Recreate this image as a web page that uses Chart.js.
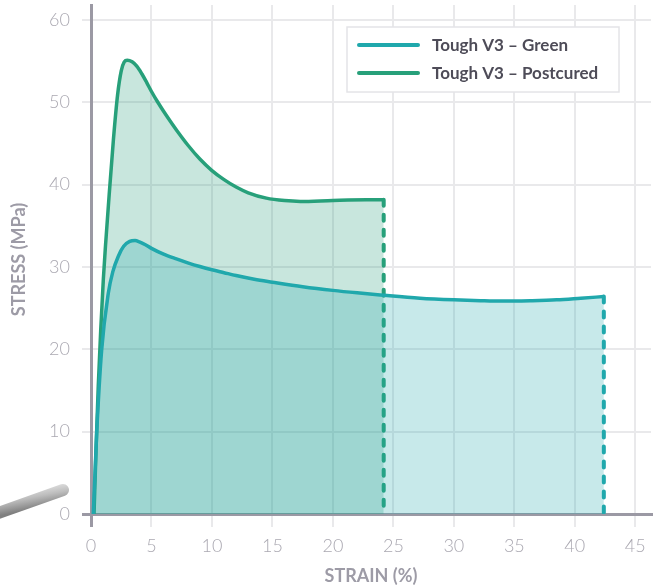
<!DOCTYPE html>
<html>
<head>
<meta charset="utf-8">
<script src="https://cdn.jsdelivr.net/npm/chart.js@4"></script>
<style>
  html, body { margin: 0; padding: 0; background: #fff; }
  #wrap { width: 656px; height: 588px; }
</style>
</head>
<body>
<div id="wrap"><canvas id="myChart" width="656" height="588"></canvas></div>
<script>
const seriesNames = ['Tough V3 – Green', 'Tough V3 – Postcured'];

const greenStrain = [0.19, 0.47, 0.88, 1.43, 1.8, 2.26, 2.7, 3.2, 3.64, 4.0, 4.5, 5.0, 6.0, 7.0, 8.0, 9.0, 10.0, 11.0, 12.0, 13.5, 15, 17.5, 20, 22, 23.9, 27.2, 30, 32.2, 34, 36.3, 38.5, 40.5, 42.4];
const greenStress = [0, 9.8, 19.9, 26.8, 29.4, 31.3, 32.5, 33.1, 33.2, 33.05, 32.7, 32.25, 31.55, 31.0, 30.5, 30.05, 29.65, 29.3, 28.95, 28.5, 28.15, 27.6, 27.15, 26.85, 26.6, 26.2, 26.0, 25.9, 25.85, 25.9, 26.0, 26.2, 26.4];

const postStrain = [0.25, 0.42, 0.6, 0.8, 1.02, 1.2, 1.43, 1.85, 2.2, 2.5, 2.75, 3.0, 3.4, 3.8, 4.2, 4.6, 5.0, 5.5, 6.0, 6.6, 7.2, 8.0, 9.0, 10.0, 11.0, 12.0, 13.0, 14.5, 16.0, 17.3, 20.0, 22.8, 24.2];
const postStress = [0, 8, 15.5, 22.2, 28.5, 32.6, 37.3, 45.4, 50.9, 53.8, 54.9, 55.1, 54.9, 54.35, 53.45, 52.4, 51.3, 50.05, 48.9, 47.6, 46.35, 44.8, 43.1, 41.7, 40.6, 39.7, 39.0, 38.35, 38.05, 37.95, 38.07, 38.15, 38.15];

const xTicks = [0, 5, 10, 15, 20, 25, 30, 35, 40, 45];
const yTicks = [0, 10, 20, 30, 40, 50, 60];

const tealColor = '#20a8ac';
const greenColor = '#27a07a';
const axisColor = '#9b99a4';
const gridColor = '#e9e9eb';
const tickColor = '#aaa8b1';

const toPoints = (xs, ys) => xs.map((x, i) => ({x: x, y: ys[i]}));
const greenPts = toPoints(greenStrain, greenStress);
const postPts = toPoints(postStrain, postStress);
const lastOf = (a) => a[a.length - 1];
const greenDrop = [{x: lastOf(greenStrain), y: lastOf(greenStress)}, {x: lastOf(greenStrain), y: 0}];
const postDrop = [{x: lastOf(postStrain), y: lastOf(postStress)}, {x: lastOf(postStrain), y: 0}];

const rodPlugin = {
    id: 'rod',
    afterDraw(chart) {
        const c = chart.ctx;
        c.save();
        const g = c.createLinearGradient(30, 488, 34, 509);
        g.addColorStop(0, '#e2e2e2');
        g.addColorStop(0.45, '#bdbdbd');
        g.addColorStop(1, '#808080');
        c.strokeStyle = g;
        c.lineWidth = 12;
        c.lineCap = 'round';
        c.beginPath();
        c.moveTo(-10, 516);
        c.lineTo(63, 490);
        c.stroke();
        c.restore();
    }
};

const legendPlugin = {
    id: 'boxLegend',
    afterDraw(chart) {
        const c = chart.ctx;
        c.save();
        c.fillStyle = '#ffffff';
        c.strokeStyle = '#e4e4e7';
        c.lineWidth = 1.5;
        c.fillRect(347, 27, 272, 65);
        c.strokeRect(347, 27, 272, 65);
        const items = [chart.data.datasets[1], chart.data.datasets[3]];
        items.forEach((ds, i) => {
            const y = 45 + i * 28;
            c.strokeStyle = ds.borderColor;
            c.lineWidth = 4;
            c.lineCap = 'round';
            c.beginPath();
            c.moveTo(359, y);
            c.lineTo(418, y);
            c.stroke();
            c.fillStyle = '#4e4c58';
            c.font = 'bold 17px Lato';
            c.textBaseline = 'middle';
            c.fillText(ds.label, 432, y + 1);
        });
        c.restore();
    }
};

const gridFor = (ctx) => ctx.tick && ctx.tick.value === 0 ? axisColor : gridColor;
const gridWidth = (ctx) => ctx.tick && ctx.tick.value === 0 ? 3 : 2;

new Chart(document.getElementById('myChart'), {
    type: 'line',
    data: {
        datasets: [
            {
                label: 'green drop',
                data: greenDrop,
                borderColor: tealColor,
                borderWidth: 4,
                borderDash: [6, 9],
                borderCapStyle: 'round',
                tension: 0,
                pointRadius: 0,
                fill: false
            }, {
                label: seriesNames[0],
                data: greenPts,
                borderColor: tealColor,
                backgroundColor: 'rgba(32,168,172,0.25)',
                borderWidth: 3.5,
                cubicInterpolationMode: 'monotone',
                pointRadius: 0,
                fill: 'origin'
            }, {
                label: 'postcured drop',
                data: postDrop,
                borderColor: greenColor,
                borderWidth: 4,
                borderDash: [6, 9],
                borderCapStyle: 'round',
                tension: 0,
                pointRadius: 0,
                fill: false
            }, {
                label: seriesNames[1],
                data: postPts,
                borderColor: greenColor,
                backgroundColor: 'rgba(42,160,122,0.26)',
                borderWidth: 3.5,
                cubicInterpolationMode: 'monotone',
                pointRadius: 0,
                fill: 'origin'
            }
        ]
    },
    options: {
        responsive: false,
        animation: false,
        layout: { padding: { top: 5, right: 5, left: 0, bottom: 0 } },
        plugins: {
            legend: { display: false },
            tooltip: { enabled: false }
        },
        scales: {
            x: {
                type: 'linear',
                min: 0,
                max: 46.3,
                afterFit: (scale) => {
                    scale.height = 74;
                    scale.paddingLeft = 0;
                    scale.paddingRight = 0;
                },
                afterBuildTicks: (scale) => { scale.ticks = xTicks.map(v => ({value: v})); },
                ticks: {
                    color: tickColor,
                    padding: 8,
                    font: { family: 'Lato', size: 18, weight: 300 }
                },
                grid: { color: gridFor, lineWidth: gridWidth, tickLength: 13 },
                border: { color: axisColor, width: 3 },
                title: {
                    display: true,
                    text: 'STRAIN (%)',
                    color: '#9d9ba6',
                    padding: { top: 0, bottom: 1 },
                    font: { family: 'Lato', size: 18, weight: 'bold' }
                }
            },
            y: {
                min: 0,
                max: 61.8,
                afterFit: (scale) => {
                    scale.width = 91;
                    scale.paddingTop = 0;
                    scale.paddingBottom = 0;
                },
                afterBuildTicks: (scale) => { scale.ticks = yTicks.map(v => ({value: v})); },
                ticks: {
                    color: tickColor,
                    padding: 12,
                    font: { family: 'Lato', size: 18, weight: 300 }
                },
                grid: { color: gridFor, lineWidth: gridWidth, tickLength: 9 },
                border: { color: axisColor, width: 3 },
                title: {
                    display: true,
                    text: 'STRESS (MPa)',
                    color: '#9d9ba6',
                    padding: { top: 8, bottom: 0 },
                    font: { family: 'Lato', size: 18, weight: 'bold' }
                }
            }
        }
    },
    plugins: [rodPlugin, legendPlugin]
});
</script>
</body>
</html>
